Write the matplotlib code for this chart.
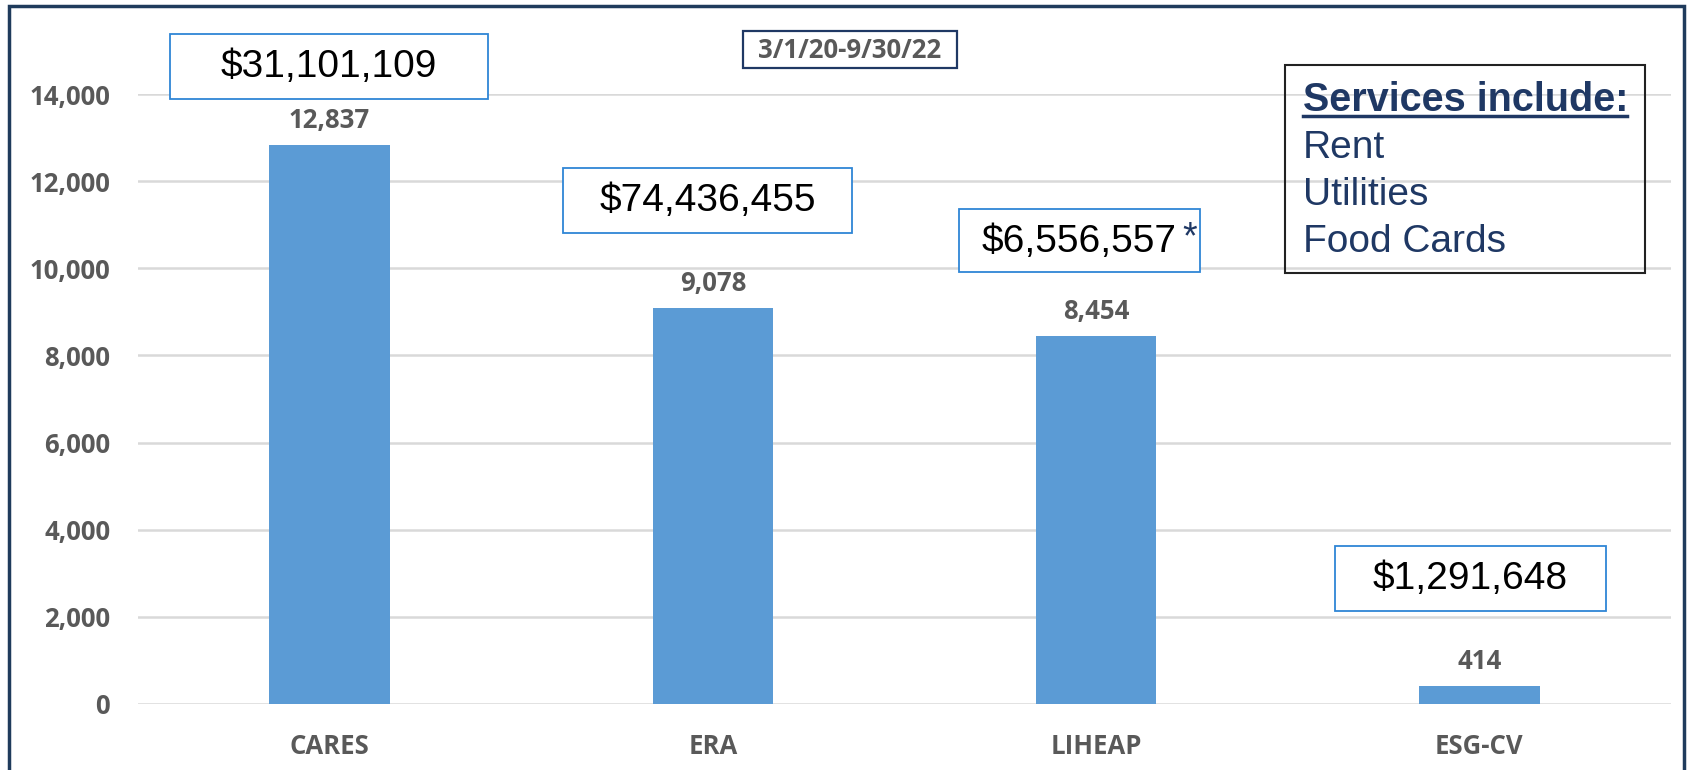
import matplotlib.pyplot as plt
from matplotlib.patches import Rectangle
from matplotlib.ticker import FuncFormatter

# --------------------------
# data
programs = ['CARES', 'ERA', 'LIHEAP', 'ESG-CV']
households = [12837, 9078, 8454, 414]
funding = ['$31,101,109', '$74,436,455', '$6,556,557', '$1,291,648']
funding_note = ['', '', '*', '']
services = ['Rent', 'Utilities', 'Food Cards']
period = '3/1/20-9/30/22'

# --------------------------
# layout (pixels)
W, H = 1691, 770
gray = '#595959'
navy = '#1F3864'
box_blue = '#2F86D6'
lab_font = 'Open Sans'

def fx(px):
    return px / W

def fy(py):
    return 1 - py / H

def px_box(l, t, r, b, **kw):
    fig.patches.append(Rectangle((fx(l), fy(b)), fx(r - l), (b - t) / H,
                                 transform=fig.transFigure, **kw))

fig = plt.figure(figsize=(W / 100, H / 100), dpi=100)
ax = fig.add_axes([fx(138), fy(704), fx(1671 - 138), (704 - 94) / H])

bars = ax.bar(programs, households, width=0.315, color='#5B9BD5', zorder=2)
for b, v in zip(bars, households):
    ax.annotate(f'{v:,}', (b.get_x() + b.get_width() / 2, v), xytext=(0, 8),
                textcoords='offset points', ha='center', va='bottom',
                fontsize=18.5, fontweight='bold', color=gray, family=lab_font)

ax.set_xlim(-0.5, len(programs) - 0.5)
ax.set_ylim(0, 14000)
ax.set_yticks(range(0, 14001, 2000))
ax.yaxis.set_major_formatter(FuncFormatter(lambda v, p: f'{int(v):,}'))
ax.grid(axis='y', color='#D9D9D9', linewidth=1.8, zorder=0)
ax.set_axisbelow(True)
for s in ax.spines.values():
    s.set_visible(False)
ax.tick_params(length=0)
ax.tick_params(axis='y', pad=20)
ax.tick_params(axis='x', pad=21)
for lab in ax.get_yticklabels() + ax.get_xticklabels():
    lab.set_fontsize(18.5)
    lab.set_fontweight('bold')
    lab.set_color(gray)
    lab.set_family(lab_font)

# --------------------------
# funding boxes (pixel boxes: left, top, right, bottom)
boxes = [(170, 34, 488, 99), (563, 168, 852, 233), (959, 209, 1200, 272), (1335, 546, 1606, 611)]
for (l, t, r, b), txt, note in zip(boxes, funding, funding_note):
    px_box(l, t, r, b, facecolor='white', edgecolor=box_blue, linewidth=1.3, zorder=5)
    fig.text(fx((l + r) / 2), fy((t + b) / 2 + 1), txt, ha='center', va='center', fontsize=28,
             family='Liberation Sans', color='black', zorder=6)
    if note:
        fig.text(fx(r - 10), fy(t + 29), note, ha='center', va='center', fontsize=27,
                 family='Liberation Sans', color=navy, zorder=6)

# period box
px_box(743, 31, 957, 68, facecolor='white', edgecolor=navy, linewidth=1.6, zorder=5)
fig.text(fx(850), fy(50), period, ha='center', va='center', fontsize=18.5, fontweight='bold',
         family=lab_font, color=gray, zorder=6)

# services box
px_box(1285, 65, 1645, 273, facecolor='none', edgecolor='#222222', linewidth=1.5, zorder=5)
fig.text(fx(1303), fy(100), 'Services include:', ha='left', va='center', fontsize=28.5,
         fontweight='bold', family='Liberation Sans', color=navy)
fig.add_artist(plt.Line2D([fx(1303), fx(1627)], [fy(116), fy(116)], color=navy, linewidth=2.5))
for i, s in enumerate(services):
    fig.text(fx(1303), fy(148 + i * 47), s, ha='left', va='center', fontsize=28,
             family='Liberation Sans', color=navy)

# outer frame
fig.patches.append(Rectangle((fx(9), -0.02), fx(1684 - 9), fy(6) + 0.02, transform=fig.transFigure,
                             facecolor='none', edgecolor='#1F3B5C', linewidth=2.5, zorder=10))

fig.savefig('out.png', dpi=100)
